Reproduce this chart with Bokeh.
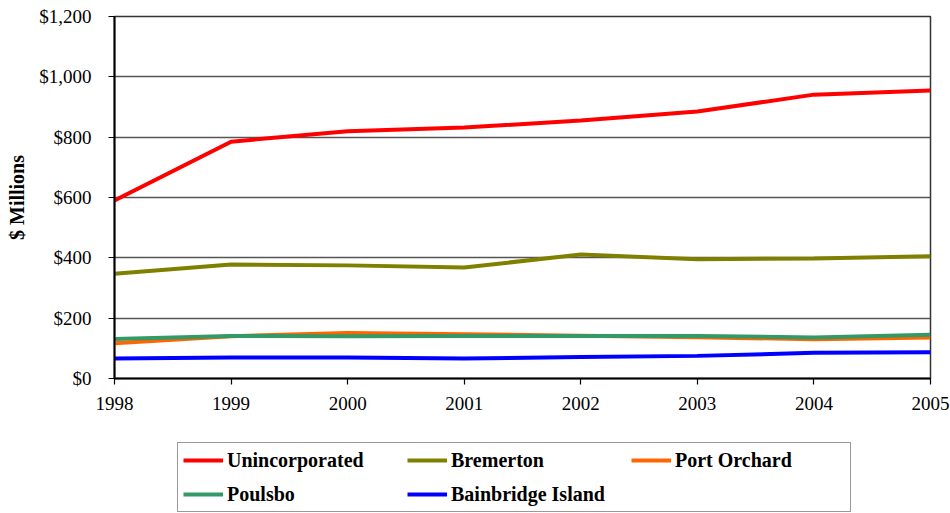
from bokeh.plotting import figure
from bokeh.layouts import column
from bokeh.models import (Range1d, FixedTicker, NumeralTickFormatter, Legend,
                          LegendItem)
from bokeh.embed import file_html
from bokeh.resources import INLINE

# Assessed value by jurisdiction, $ millions
years = [1998, 1999, 2000, 2001, 2002, 2003, 2004, 2005]
unincorporated = [590, 785, 820, 832, 855, 885, 941, 955]
bremerton = [347, 378, 375, 368, 411, 395, 398, 405]
port_orchard = [117, 140, 151, 147, 142, 137, 130, 136]
poulsbo = [131, 141, 140, 141, 141, 141, 136, 145]
bainbridge_island = [66, 70, 70, 66, 71, 75, 85, 87]

series_names = ["Unincorporated", "Bremerton", "Port Orchard", "Poulsbo",
                "Bainbridge Island"]
series_values = [unincorporated, bremerton, port_orchard, poulsbo,
                 bainbridge_island]
series_colors = ["#FF0000", "#808000", "#FF6600", "#339966", "#0000FF"]

y_ticks = [0, 200, 400, 600, 800, 1000, 1200]

FONT = "Liberation Serif"

# ---- main chart -----------------------------------------------------------
p = figure(width=950, height=425, output_backend="svg", toolbar_location=None,
           x_range=Range1d(1998, 2005), y_range=Range1d(0, 1200),
           min_border_left=114, min_border_right=20, min_border_top=16,
           min_border_bottom=47)

p.background_fill_color = "white"
p.border_fill_color = "white"
p.outline_line_color = "#333333"
p.outline_line_width = 1.5

p.xgrid.visible = False
p.ygrid.ticker = FixedTicker(ticks=y_ticks)
p.ygrid.grid_line_color = "#555555"
p.ygrid.grid_line_width = 1.5

p.xaxis.ticker = FixedTicker(ticks=years)
p.yaxis.ticker = FixedTicker(ticks=y_ticks)
p.yaxis.formatter = NumeralTickFormatter(format="$0,0")
for ax in (p.xaxis[0], p.yaxis[0]):
    ax.axis_line_color = "black"
    ax.axis_line_width = 2
    ax.major_tick_line_color = "black"
    ax.major_tick_line_width = 1.2
    ax.major_tick_in = 0
    ax.major_tick_out = 6
    ax.minor_tick_line_color = None
    ax.major_label_text_font = FONT
    ax.major_label_text_font_size = "19px"
    ax.major_label_text_color = "black"
p.xaxis.major_label_standoff = 12
p.yaxis.major_label_standoff = 17
p.yaxis.axis_label = "$ Millions"
p.yaxis.axis_label_text_font = FONT
p.yaxis.axis_label_text_font_style = "bold"
p.yaxis.axis_label_text_font_size = "20px"
p.yaxis.axis_label_text_color = "black"
p.yaxis.axis_label_standoff = 8

for vals, color in zip(series_values, series_colors):
    p.line(years, vals, line_color=color, line_width=4)

# ---- legend strip under the chart ------------------------------------------
# The strip's ranges lie outside the data, so its series only supply legend keys.
lg = figure(width=950, height=88, output_backend="svg", toolbar_location=None,
            x_range=Range1d(0, 1), y_range=Range1d(0, 1),
            x_axis_type=None, y_axis_type=None, min_border=0)
lg.xgrid.visible = False
lg.ygrid.visible = False
lg.outline_line_color = None
lg.background_fill_color = "white"
lg.border_fill_color = "white"

items = []
for name, vals, color in zip(series_names, series_values, series_colors):
    key = lg.line(years, vals, line_color=color, line_width=4)
    items.append(LegendItem(label=name, renderers=[key]))

legend = Legend(items=items, orientation="horizontal", ncols=3,
                location=(63, 1))
legend.border_line_color = "#333333"
legend.border_line_width = 1.5
legend.background_fill_alpha = 1
legend.padding = 5
legend.spacing = 10
legend.margin = 0
legend.glyph_width = 40
legend.glyph_height = 24
legend.label_height = 24
legend.label_width = 170
legend.label_standoff = 4
legend.label_text_font = FONT
legend.label_text_font_style = "bold"
legend.label_text_font_size = "20px"
legend.label_text_color = "black"
lg.add_layout(legend, "center")

layout = column(p, lg, spacing=0)

open("out.html", "w").write(file_html(layout, INLINE))
